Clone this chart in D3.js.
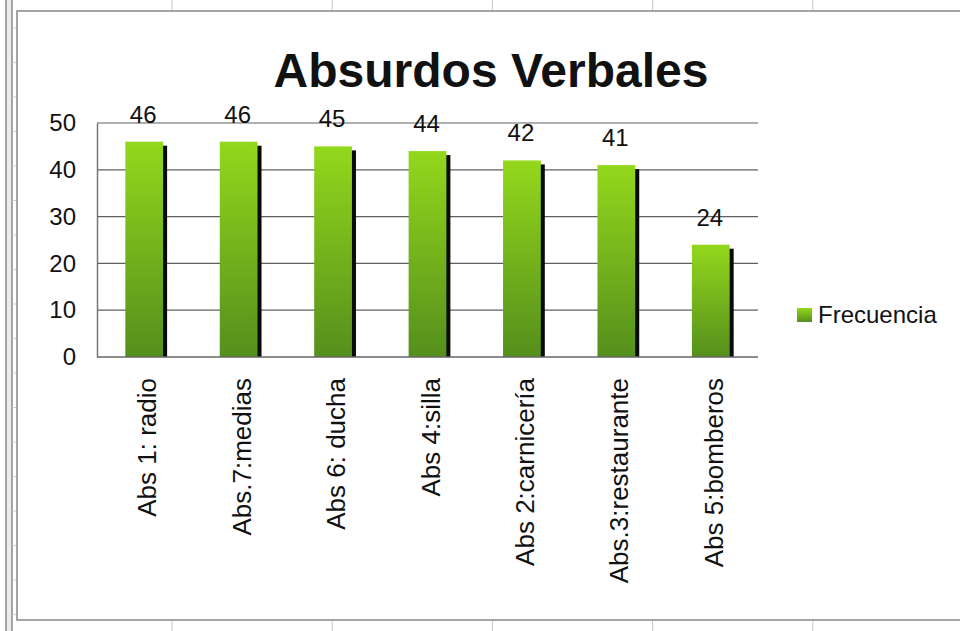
<!DOCTYPE html>
<html>
<head>
<meta charset="utf-8">
<script src="https://cdn.jsdelivr.net/npm/d3@7"></script>
<style>
  body { margin: 0; background: #fff; }
  svg text { font-family: "Liberation Sans", Arial, sans-serif; fill: #111; }
</style>
</head>
<body>
<div id="chart"></div>
<script>
const categories = ['Abs 1: radio', 'Abs.7:medias', 'Abs 6: ducha', 'Abs 4:silla',
  'Abs 2:carnicería', 'Abs.3:restaurante', 'Abs 5:bomberos'];
const frecuencia = [46, 46, 45, 44, 42, 41, 24];
const yTicks = [0, 10, 20, 30, 40, 50];
const seriesName = 'Frecuencia';
const title = 'Absurdos Verbales';

const width = 960;
const height = 631;
const plot = { left: 97, right: 758, top: 123, bottom: 357 };

const svg = d3.select('#chart')
  .append('svg')
  .attr('width', width)
  .attr('height', height);

// spreadsheet backdrop
const sheet = svg.append('g');
sheet.append('rect').attr('x', 6).attr('y', 0).attr('width', 6).attr('height', height).attr('fill', '#ececec');
[6, 12].forEach(x => sheet.append('line')
  .attr('x1', x).attr('x2', x).attr('y1', 0).attr('y2', height)
  .attr('stroke', '#8a8a8a').attr('stroke-width', 1.5));
d3.range(28, height, 34.5).forEach(y => sheet.append('line')
  .attr('x1', 12).attr('x2', 17).attr('y1', y).attr('y2', y)
  .attr('stroke', '#cfcfcf'));
d3.range(172, width, 160.2).forEach(x => sheet.append('line')
  .attr('x1', x).attr('x2', x).attr('y1', 0).attr('y2', height)
  .attr('stroke', '#c8c8c8'));

// chart area
svg.append('rect')
  .attr('x', 17).attr('y', 11)
  .attr('width', width).attr('height', 609)
  .attr('fill', '#fff')
  .attr('stroke', '#888')
  .attr('stroke-width', 1.5);

const defs = svg.append('defs');
const grad = defs.append('linearGradient')
  .attr('id', 'barGrad')
  .attr('x1', 0).attr('y1', 0).attr('x2', 0).attr('y2', 1);
grad.append('stop').attr('offset', '0%').attr('stop-color', '#93d81c');
grad.append('stop').attr('offset', '100%').attr('stop-color', '#558f1c');

const x = d3.scaleBand()
  .domain(categories)
  .range([plot.left, plot.right])
  .padding(0);

const y = d3.scaleLinear()
  .domain([0, 50])
  .range([plot.bottom, plot.top]);

// gridlines
svg.append('g')
  .selectAll('line')
  .data(yTicks.filter(d => d > 0))
  .enter().append('line')
  .attr('x1', plot.left).attr('x2', plot.right)
  .attr('y1', d => y(d)).attr('y2', d => y(d))
  .attr('stroke', '#606060')
  .attr('stroke-width', 1.2);

// y axis
const yAxis = svg.append('g')
  .attr('transform', `translate(${plot.left},0)`)
  .call(d3.axisLeft(y).tickValues(yTicks).tickSize(0).tickPadding(21));
yAxis.select('.domain').attr('stroke', '#777').attr('stroke-width', 1.5);
yAxis.selectAll('text')
  .attr('font-size', 24)
  .attr('fill', '#111')
  .style('font-family', '"Liberation Sans", Arial, sans-serif');

const barW = x.bandwidth() * 0.4;
const barX = d => x(d) + (x.bandwidth() - barW) / 2;

const bars = svg.append('g')
  .selectAll('g')
  .data(categories.map((c, i) => ({ cat: c, val: frecuencia[i] })))
  .enter().append('g');

// dark shadow behind each bar
bars.append('rect')
  .attr('x', d => barX(d.cat) + 4)
  .attr('y', d => y(d.val) + 4)
  .attr('width', barW)
  .attr('height', d => plot.bottom - y(d.val) - 4)
  .attr('fill', '#0a0a0a');

bars.append('rect')
  .attr('x', d => barX(d.cat))
  .attr('y', d => y(d.val))
  .attr('width', barW)
  .attr('height', d => plot.bottom - y(d.val))
  .attr('fill', 'url(#barGrad)');

bars.append('text')
  .attr('x', d => x(d.cat) + x.bandwidth() / 2 - 1)
  .attr('y', d => y(d.val) - 19)
  .attr('text-anchor', 'middle')
  .attr('font-size', 24)
  .text(d => d.val);

// x axis line
svg.append('line')
  .attr('x1', plot.left).attr('x2', plot.right)
  .attr('y1', plot.bottom).attr('y2', plot.bottom)
  .attr('stroke', '#666')
  .attr('stroke-width', 1.5);

// rotated category labels
svg.append('g')
  .selectAll('text')
  .data(categories)
  .enter().append('text')
  .attr('transform', d => `translate(${x(d) + x.bandwidth() / 2 + 3},378) rotate(-90)`)
  .attr('text-anchor', 'end')
  .attr('dy', '0.35em')
  .attr('font-size', 26)
  .text(d => d);

// title
svg.append('text')
  .attr('x', 491)
  .attr('y', 87)
  .attr('text-anchor', 'middle')
  .attr('font-size', 48)
  .attr('font-weight', 'bold')
  .attr('fill', '#000')
  .text(title);

// legend
const legend = svg.append('g').attr('transform', 'translate(797,308)');
legend.append('rect')
  .attr('width', 15).attr('height', 14)
  .attr('fill', 'url(#barGrad)');
legend.append('text')
  .attr('x', 21)
  .attr('y', 7)
  .attr('dy', '0.35em')
  .attr('font-size', 24)
  .text(seriesName);
</script>
</body>
</html>
